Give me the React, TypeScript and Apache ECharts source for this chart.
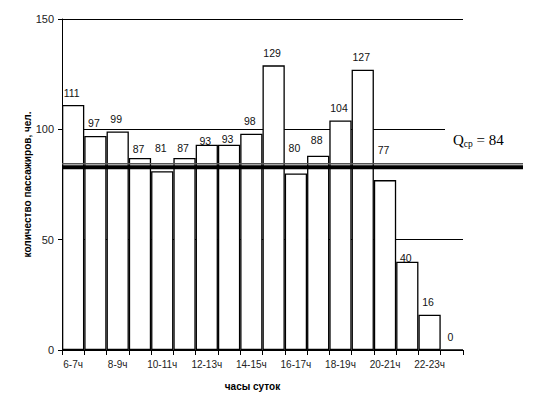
import React, { useEffect, useRef } from "react";
import * as echarts from "echarts";

const categories = [
  "6-7ч", "7-8ч", "8-9ч", "9-10ч", "10-11ч", "11-12ч", "12-13ч", "13-14ч", "14-15ч",
  "15-16ч", "16-17ч", "17-18ч", "18-19ч", "19-20ч", "20-21ч", "21-22ч", "22-23ч", "23-24ч",
];
const passengers = [111, 97, 99, 87, 81, 87, 93, 93, 98, 129, 80, 88, 104, 127, 77, 40, 16, 0];
const meanValue = 84;
const yMin = 0;
const yMax = 150;
const yStep = 50;
const yAxisTitle = "количество пассажиров, чел.";
const xAxisTitle = "часы суток";
// manual vertical nudges of the value labels (as placed in the original)
const labelNudgeY = [0, 0, 0, 3, -10.5, 2, 8.8, 6.8, 0, 0, -12.5, -3.5, 0, 0, -17.5, 8.3, 0, 0];

export default function App() {
  const ref = useRef<HTMLDivElement>(null);
  useEffect(() => {
    if (!ref.current) return;
    const chart = echarts.init(ref.current, null, { renderer: "svg" });
    const gridLeft = 62;
    chart.setOption({
      animation: false,
      backgroundColor: "#fff",
      grid: { left: gridLeft, right: 82, top: 19, bottom: 47 },
      xAxis: {
        type: "category",
        data: categories,
        name: xAxisTitle,
        nameLocation: "middle",
        nameGap: 31,
        nameMoveOverlap: false,
        nameTextStyle: { fontFamily: "Liberation Sans", fontSize: 10, fontWeight: "bold", color: "#000", padding: [0, 20, 0, 0] },
        axisLine: { lineStyle: { color: "#000", width: 1 } },
        axisTick: { show: true, interval: 0, length: 5, lineStyle: { color: "#000" } },
        axisLabel: { interval: 1, fontFamily: "Liberation Sans", fontSize: 10, color: "#222", margin: 9 },
        splitLine: { show: false },
      },
      yAxis: {
        type: "value",
        min: yMin,
        max: yMax,
        interval: yStep,
        name: yAxisTitle,
        nameLocation: "middle",
        nameGap: 30,
        nameMoveOverlap: false,
        nameTextStyle: { fontFamily: "Liberation Sans", fontSize: 10, fontWeight: "bold", color: "#000" },
        axisLine: { show: true, lineStyle: { color: "#000", width: 1 } },
        axisTick: { show: true, length: 4, lineStyle: { color: "#000" } },
        axisLabel: { fontFamily: "Liberation Sans", fontSize: 11, color: "#222", margin: 8 },
        splitLine: { show: true, lineStyle: { color: "#000", width: 1 } },
      },
      series: [
        {
          type: "bar",
          data: passengers.map((v, i) => ({
            value: v,
            label: { offset: [-1.5, labelNudgeY[i]] },
          })),
          barCategoryGap: 0,
          itemStyle: { color: "#fff", borderColor: "#000", borderWidth: 1.3 },
          label: {
            show: true,
            position: "top",
            distance: 7,
            fontFamily: "Liberation Sans",
            fontSize: 10.5,
            color: "#111",
          },
          z: 2,
        },
      ],
    });
    const yPix = chart.convertToPixel({ yAxisIndex: 0 }, meanValue) as number;
    const yTop = chart.convertToPixel({ yAxisIndex: 0 }, 100) as number;
    chart.setOption({
      graphic: [
        {
          type: "rect",
          shape: { x: 445, y: yTop - 4, width: 70, height: 28 },
          style: { fill: "#fff" },
          z: 100,
        },
        {
          type: "text",
          x: 453,
          y: yTop + 18,
          z: 101,
          style: {
            text: "{a|Q}{b|ср}{a| = 84}",
            textVerticalAlign: "bottom",
            rich: {
              a: { fontFamily: "Liberation Serif", fontSize: 15, fill: "#000", verticalAlign: "bottom" },
              b: { fontFamily: "Liberation Serif", fontSize: 9.5, fill: "#000", verticalAlign: "bottom", padding: [0, 0, -2, 0] },
            },
          },
        },
        {
          type: "line",
          shape: { x1: gridLeft, y1: yPix - 1, x2: 523, y2: yPix - 1 },
          style: { stroke: "#555", lineWidth: 1.5 },
          z: 100,
        },
        {
          type: "line",
          shape: { x1: gridLeft, y1: yPix + 2.5, x2: 523, y2: yPix + 2.5 },
          style: { stroke: "#000", lineWidth: 4 },
          z: 100,
        },
      ],
    });
    return () => chart.dispose();
  }, []);
  return (
    <div
      ref={ref}
      style={{ position: "fixed", left: 0, top: 0, width: 545, height: 397, background: "#fff" }}
    />
  );
}
